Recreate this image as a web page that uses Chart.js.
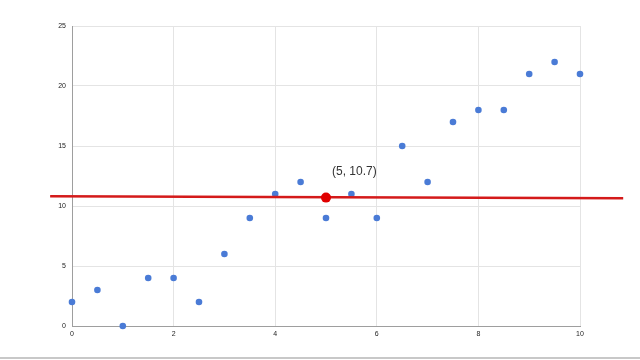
<!DOCTYPE html>
<html>
<head>
<meta charset="utf-8">
<script src="https://cdn.jsdelivr.net/npm/chart.js@4"></script>
<style>
  html, body { margin: 0; padding: 0; background: #fff; }
  #wrap { position: relative; width: 640px; height: 360px; overflow: hidden; }
  #rodape { position: absolute; left: 0; top: 357px; width: 640px; height: 0; border-top: 2px solid #c8c8c8; }
</style>
</head>
<body>
<div id="wrap">
  <canvas id="grafico" width="640" height="360"></canvas>
  <div id="rodape"></div>
</div>
<script>
// ==========================================
// DADOS
// ==========================================
const valoresX = [0, 0.5, 1, 1.5, 2, 2.5, 3, 3.5, 4, 4.5, 5, 5.5, 6, 6.5, 7, 7.5, 8, 8.5, 9, 9.5, 10];
const valoresY = [2, 3, 0, 4, 4, 2, 6, 9, 11, 12, 9, 11, 9, 15, 12, 17, 18, 18, 21, 22, 21];

// linha vermelha (desenhada à mão, levemente inclinada)
const linhaX = [-0.43, 10.85];
const linhaY = [10.81, 10.64];

// ponto destacado
const destaqueX = [5];
const destaqueY = [10.7];
const destaqueTexto = '(5, 10.7)';

const ticksX = [0, 2, 4, 6, 8, 10];
const ticksY = [0, 5, 10, 15, 20, 25];

const pontos = valoresX.map((x, i) => ({ x: x, y: valoresY[i] }));
const linha = linhaX.map((x, i) => ({ x: x, y: linhaY[i] }));
const destaque = destaqueX.map((x, i) => ({ x: x, y: destaqueY[i] }));

const corTexto = '#222';
const fonteEixo = { family: 'Liberation Sans, Arial, sans-serif', size: 7 };

// rótulo do ponto destacado
const rotuloDestaque = {
    id: 'rotuloDestaque',
    afterDatasetsDraw(chart) {
        const ctx = chart.ctx;
        const px = chart.scales.x.getPixelForValue(destaqueX[0]);
        const py = chart.scales.y.getPixelForValue(destaqueY[0]);
        ctx.save();
        ctx.font = '12px "Liberation Sans", Arial, sans-serif';
        ctx.fillStyle = '#333';
        ctx.textAlign = 'left';
        ctx.textBaseline = 'middle';
        ctx.fillText(destaqueTexto, px + 6, py - 26);
        ctx.restore();
    }
};

new Chart(document.getElementById('grafico').getContext('2d'), {
    type: 'scatter',
    data: {
        datasets: [
            {
                type: 'line',
                data: linha,
                borderColor: '#d41a1a',
                borderWidth: 2.5,
                pointRadius: 0,
                fill: false,
                clip: false,
                order: 1
            },
            {
                data: destaque,
                backgroundColor: '#e00000',
                borderWidth: 0,
                pointRadius: 5,
                order: 0
            },
            {
                data: pontos,
                backgroundColor: '#4a7bd6',
                borderWidth: 0,
                pointRadius: 3.3,
                clip: false,
                order: 2
            }
        ]
    },
    options: {
        responsive: false,
        animation: false,
        events: [],
        layout: { padding: { left: 0, top: 26, right: 60, bottom: 0 } },
        plugins: { legend: { display: false }, tooltip: { enabled: false } },
        scales: {
            x: {
                type: 'linear',
                min: 0, max: 10,
                afterBuildTicks: (eixo) => { eixo.ticks = ticksX.map(v => ({ value: v })); },
                afterFit: (eixo) => { eixo.height = 34; },
                ticks: { color: corTexto, font: fonteEixo, padding: 4 },
                grid: { color: '#e4e4e4', drawTicks: false },
                border: { color: '#9e9e9e', width: 1 }
            },
            y: {
                min: 0, max: 25,
                afterBuildTicks: (eixo) => { eixo.ticks = ticksY.map(v => ({ value: v })); },
                afterFit: (eixo) => { eixo.width = 72; },
                ticks: { color: corTexto, font: fonteEixo, padding: 6 },
                grid: { color: '#e4e4e4', drawTicks: false },
                border: { color: '#9e9e9e', width: 1 }
            }
        }
    },
    plugins: [rotuloDestaque]
});
</script>
</body>
</html>
